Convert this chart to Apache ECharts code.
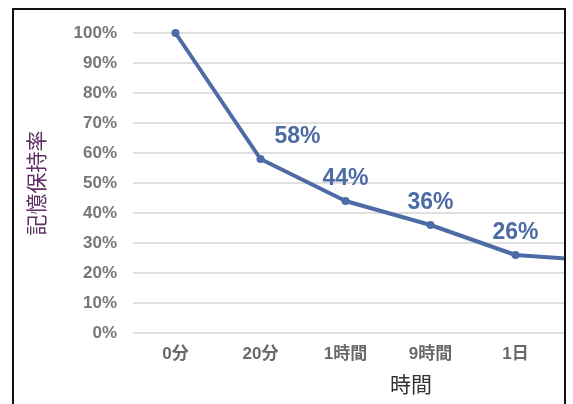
<!DOCTYPE html>
<html>
<head>
<meta charset="utf-8">
<script src="https://cdn.jsdelivr.net/npm/echarts@6/dist/echarts.min.js"></script>
<style>
html,body{margin:0;padding:0;background:#fff;}
#chart{width:573px;height:404px;}
</style>
</head>
<body>
<div id="chart"></div>
<script>
var categories = ['0分', '20分', '1時間', '9時間', '1日', '2日'];
var retention = [100, 58, 44, 36, 26, 24];
var labeledIndex = [1, 2, 3, 4];
var yTicks = [0, 10, 20, 30, 40, 50, 60, 70, 80, 90, 100];

var FONT = '"Liberation Sans", "Noto Sans CJK JP", sans-serif';
var BLUE = '#4d6ca6';

var seriesData = retention.map(function (v, i) {
  var item = { value: v };
  if (labeledIndex.indexOf(i) >= 0) {
    item.label = {
      show: true,
      position: 'top',
      distance: 7,
      offset: i === 1 ? [37, 0] : [0, 0]
    };
  }
  return item;
});

var chart = echarts.init(document.getElementById('chart'));
chart.setOption({
  animation: false,
  backgroundColor: '#ffffff',
  grid: { left: 133, top: 33, width: 510, height: 300, containLabel: false, outerBoundsMode: 'none' },
  xAxis: {
    type: 'category',
    data: categories,
    boundaryGap: true,
    axisLine: { show: false },
    axisTick: { show: false },
    axisLabel: { color: '#6a6a6a', fontWeight: 'bold', fontSize: 17, fontFamily: FONT, margin: 13 }
  },
  yAxis: {
    type: 'value',
    min: yTicks[0],
    max: yTicks[yTicks.length - 1],
    interval: 10,
    name: '記憶保持率',
    nameLocation: 'middle',
    nameRotate: 90,
    nameGap: 86,
    nameTextStyle: { color: '#5e2f63', fontSize: 21, fontFamily: '"Noto Sans CJK JP", sans-serif' },
    axisLine: { show: false },
    axisTick: { show: false },
    axisLabel: { color: '#777777', fontWeight: 'bold', fontSize: 17, fontFamily: FONT, margin: 16,
      formatter: '{value}%' },
    splitLine: { lineStyle: { color: '#d4d4d4', width: 1.5 } }
  },
  series: [{
    type: 'line',
    data: seriesData,
    symbol: 'circle',
    symbolSize: 8,
    lineStyle: { color: BLUE, width: 4 },
    itemStyle: { color: BLUE },
    label: {
      show: false,
      formatter: '{c}%',
      color: BLUE,
      fontWeight: 'bold',
      fontSize: 23,
      fontFamily: FONT
    }
  }],
  graphic: [
    { type: 'rect', z: 100, shape: { x: 566, y: 0, width: 20, height: 404 }, style: { fill: '#ffffff' } },
    { type: 'rect', z: 101, shape: { x: 13, y: 9, width: 552, height: 420 },
      style: { fill: 'none', stroke: '#111111', lineWidth: 2 } },
    { type: 'text', z: 102, x: 411, y: 384,
      style: { text: '時間', fill: '#333333', fontSize: 21, fontFamily: '"Noto Sans CJK JP", sans-serif',
        textAlign: 'center', textVerticalAlign: 'middle' } }
  ]
});
</script>
</body>
</html>
